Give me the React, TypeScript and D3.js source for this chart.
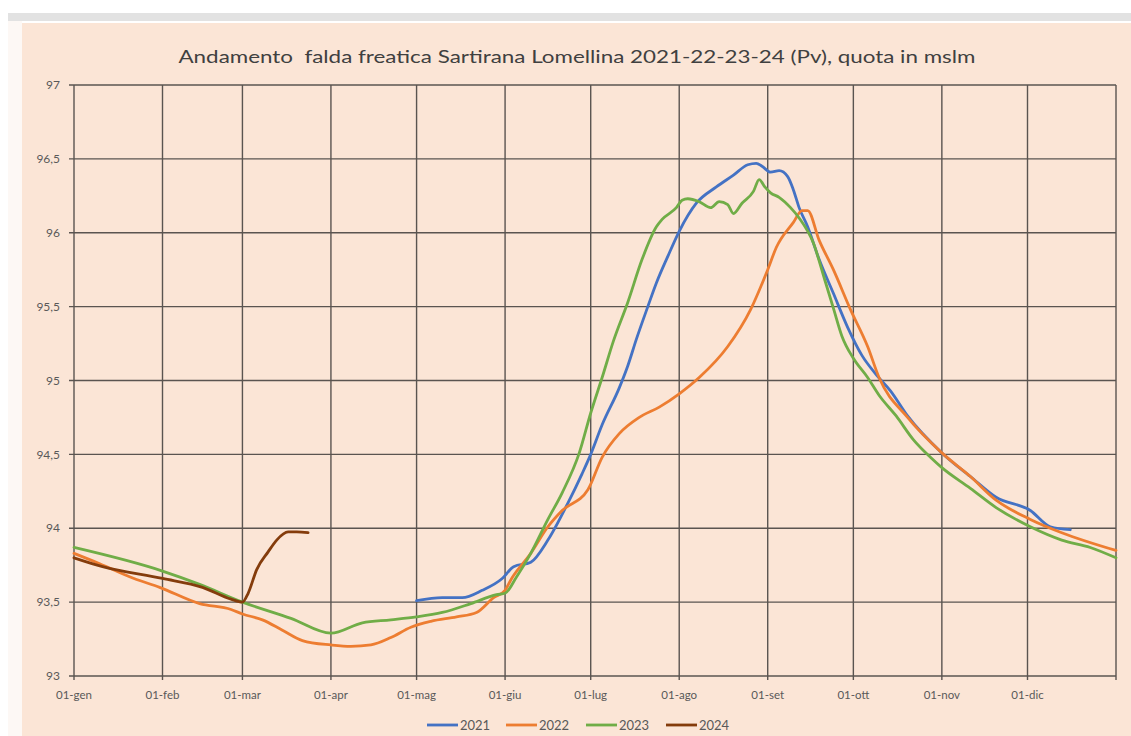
import React from "react";
import * as d3 from "d3";

const title = "Andamento  falda freatica Sartirana Lomellina 2021-22-23-24 (Pv), quota in mslm";

const monthDays = [0, 31, 59, 90, 120, 151, 181, 212, 243, 273, 304, 334];
const monthLabels = ["01-gen", "01-feb", "01-mar", "01-apr", "01-mag", "01-giu", "01-lug", "01-ago", "01-set", "01-ott", "01-nov", "01-dic"];
const yTicks = [93, 93.5, 94, 94.5, 95, 95.5, 96, 96.5, 97];

const days2021 = [120, 129, 136, 143, 150, 154, 160, 166, 173, 178, 181, 185, 191, 194, 197, 201, 204, 208, 212, 218, 225, 231, 236, 239, 241, 244, 247, 250, 252, 254, 257, 261, 266, 271, 276, 281, 286, 292, 304, 314, 323, 335, 342, 349];
const values2021 = [93.51, 93.53, 93.53, 93.58, 93.66, 93.74, 93.77, 93.92, 94.17, 94.37, 94.5, 94.7, 94.95, 95.1, 95.28, 95.5, 95.66, 95.84, 96.01, 96.2, 96.31, 96.39, 96.46, 96.47, 96.45, 96.41, 96.42, 96.38, 96.29, 96.17, 96.04, 95.82, 95.59, 95.36, 95.17, 95.04, 94.93, 94.76, 94.51, 94.35, 94.21, 94.12, 94.01, 93.99];

const days2022 = [0, 9, 21, 30, 44, 55, 59, 66, 73, 80, 90, 97, 104, 111, 118, 125, 134, 141, 147, 151, 153, 160, 166, 171, 180, 185, 191, 198, 205, 212, 219, 229, 237, 243, 246, 252, 255, 257, 261, 266, 272, 278, 282, 292, 304, 314, 323, 335, 346, 365];
const values2022 = [93.83, 93.76, 93.66, 93.6, 93.49, 93.45, 93.42, 93.38, 93.31, 93.24, 93.21, 93.2, 93.21, 93.26, 93.33, 93.37, 93.4, 93.43, 93.53, 93.58, 93.65, 93.83, 94.01, 94.12, 94.26, 94.48, 94.64, 94.75, 94.82, 94.91, 95.02, 95.23, 95.48, 95.75, 95.9, 96.07, 96.15, 96.15, 95.95, 95.75, 95.48, 95.23, 95.02, 94.75, 94.51, 94.35, 94.19, 94.06, 93.97, 93.85];

const days2023 = [0, 31, 44, 59, 76, 90, 101, 111, 120, 129, 139, 148, 151, 155, 160, 166, 171, 177, 181, 185, 189, 194, 199, 204, 206, 211, 213, 215, 219, 223, 226, 229, 231, 234, 238, 240, 242, 244, 247, 251, 254, 259, 263, 266, 269, 273, 278, 282, 288, 294, 300, 304, 314, 323, 335, 346, 356, 365];
const values2023 = [93.87, 93.71, 93.62, 93.5, 93.39, 93.29, 93.36, 93.38, 93.4, 93.43, 93.49, 93.55, 93.56, 93.67, 93.83, 94.06, 94.24, 94.51, 94.78, 95.02, 95.27, 95.53, 95.82, 96.04, 96.09, 96.17, 96.22, 96.23, 96.21, 96.17, 96.21, 96.19, 96.13, 96.2, 96.28, 96.36, 96.31, 96.27, 96.24, 96.17, 96.1, 95.93, 95.68, 95.49, 95.3, 95.15, 95.02, 94.9, 94.76, 94.6, 94.48, 94.41, 94.27, 94.14, 94.01, 93.92, 93.87, 93.8];

const days2024 = [0, 10, 31, 45, 55, 59, 61, 64, 68, 71, 75, 78, 82];
const values2024 = [93.8, 93.74, 93.66, 93.6, 93.52, 93.5, 93.56, 93.72, 93.84, 93.92, 93.975, 93.975, 93.97];

const seriesNames = ["2021", "2022", "2023", "2024"];
const seriesColors = ["#4472C4", "#ED7D31", "#70AD47", "#843C0C"];
const seriesDays = [days2021, days2022, days2023, days2024];
const seriesValues = [values2021, values2022, values2023, values2024];

const W = 1131;
const H = 736;
const plot = { left: 74, right: 1116, top: 85, bottom: 676 };
const font = "Lato, 'Open Sans', sans-serif";

export default function App() {
  const x = d3.scaleLinear().domain([0, 365]).range([plot.left, plot.right]);
  const y = d3.scaleLinear().domain([93, 97]).range([plot.bottom, plot.top]);
  const line = d3
    .line<[number, number]>()
    .x((d) => x(d[0]))
    .y((d) => y(d[1]))
    .curve(d3.curveMonotoneX);

  const gridColor = "#5a5450";
  const vLines = [...monthDays, 365];
  const legendX = [427, 506, 586, 666];

  return (
    <svg
      width={W}
      height={H}
      style={{ position: "absolute", left: 0, top: 0 }}
      xmlns="http://www.w3.org/2000/svg"
    >
      <rect x={0} y={0} width={W} height={H} fill="#ffffff" />
      <rect x={8} y={13} width={W - 8} height={8} fill="#e2e2e2" />
      <rect x={8} y={21} width={14} height={H - 21} fill="#fdf8f5" />
      <rect x={22} y={23} width={W - 22} height={H - 23} fill="#fbe5d6" />

      <text
        x={577}
        y={63}
        textAnchor="middle"
        fontFamily={font}
        fontSize={17}
        fill="#404040"
        textLength={797}
        lengthAdjust="spacingAndGlyphs"
        style={{ whiteSpace: "pre" }}
      >
        {title}
      </text>

      {yTicks.map((t) => (
        <g key={"y" + t}>
          <line x1={plot.left - 5} x2={plot.right} y1={y(t)} y2={y(t)} stroke={gridColor} strokeWidth={1.4} />
          <text
            x={60}
            y={y(t)}
            dy="0.35em"
            textAnchor="end"
            fontFamily={font}
            fontSize={12}
            fill="#595959"
          >
            {String(t).replace(".", ",")}
          </text>
        </g>
      ))}

      {vLines.map((d) => (
        <line key={"v" + d} x1={x(d)} x2={x(d)} y1={plot.top} y2={plot.bottom + 4} stroke={gridColor} strokeWidth={1.4} />
      ))}

      {monthDays.map((d, i) => (
        <text
          key={"xl" + d}
          x={x(d)}
          y={699}
          textAnchor="middle"
          fontFamily={font}
          fontSize={11.5}
          fill="#595959"
        >
          {monthLabels[i]}
        </text>
      ))}

      {seriesNames.map((name, i) => {
        const pts: [number, number][] = seriesDays[i].map((d, j) => [d, seriesValues[i][j]]);
        return (
          <path
            key={name}
            d={line(pts) || ""}
            fill="none"
            stroke={seriesColors[i]}
            strokeWidth={2.8}
            strokeLinejoin="round"
            strokeLinecap="round"
          />
        );
      })}

      {seriesNames.map((name, i) => (
        <g key={"lg" + name}>
          <line x1={legendX[i]} x2={legendX[i] + 31} y1={725} y2={725} stroke={seriesColors[i]} strokeWidth={2.8} />
          <text x={legendX[i] + 33} y={729.5} fontFamily={font} fontSize={13} fill="#595959">
            {name}
          </text>
        </g>
      ))}
    </svg>
  );
}
